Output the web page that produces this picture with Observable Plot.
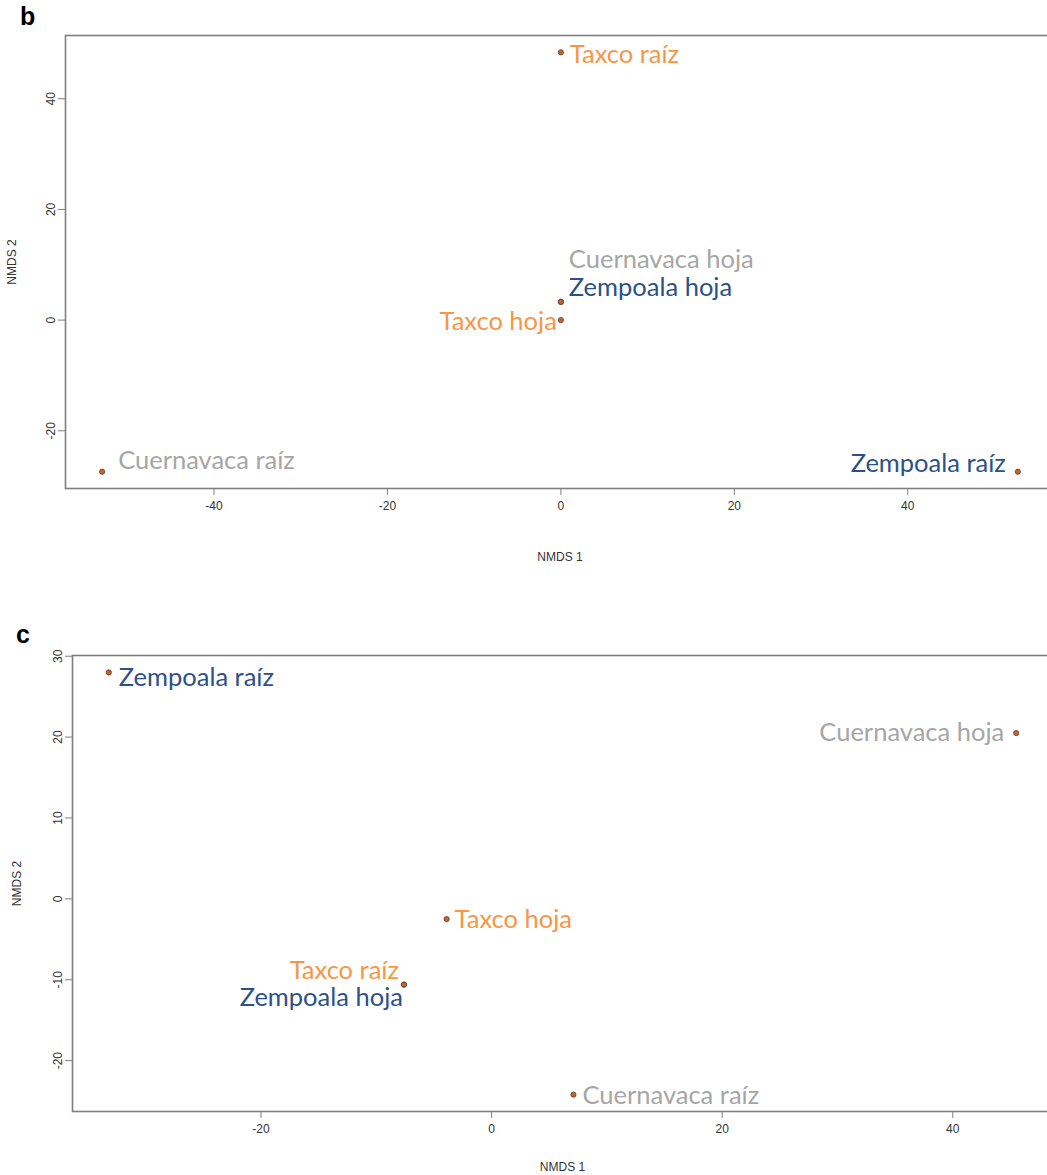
<!DOCTYPE html>
<html>
<head>
<meta charset="utf-8">
<script src="https://cdn.jsdelivr.net/npm/d3@7"></script>
<script src="https://cdn.jsdelivr.net/npm/@observablehq/plot@0.6"></script>
<style>
  html, body { margin: 0; padding: 0; background: #fff; }
  body { width: 1047px; height: 1175px; overflow: hidden; position: relative; font-family: "Liberation Sans", Arial, sans-serif; }
  .panel { position: absolute; left: 0; }
  .tag { position: absolute; font: bold 25px "Liberation Sans", Arial, sans-serif; color: #000; }
  svg { overflow: hidden; }
</style>
</head>
<body>
<div class="panel" id="pb" style="top:0"></div>
<div class="panel" id="pc" style="top:585px"></div>
<div class="tag" style="left:20px; top:2px">b</div>
<div class="tag" style="left:16px; top:620px">c</div>
<script>
// NMDS ordination scores per sample (site + tissue)
const samples = ["Taxco raíz", "Cuernavaca hoja", "Zempoala hoja", "Taxco hoja", "Cuernavaca raíz", "Zempoala raíz"];
const sites = ["Taxco", "Cuernavaca", "Zempoala", "Taxco", "Cuernavaca", "Zempoala"];

// panel b
const bNMDS1 = [0.0, 0.0, 0.0, 0.0, -52.9, 52.7];
const bNMDS2 = [48.4, 3.3, 3.3, 0.0, -27.4, -27.4];
const bTicksX = [-40, -20, 0, 20, 40];
const bTicksY = [-20, 0, 20, 40];

// panel c
const cSamples = ["Zempoala raíz", "Cuernavaca hoja", "Taxco hoja", "Taxco raíz", "Zempoala hoja", "Cuernavaca raíz"];
const cSites = ["Zempoala", "Cuernavaca", "Taxco", "Taxco", "Zempoala", "Cuernavaca"];
const cNMDS1 = [-33.2, 45.5, -3.9, -7.6, -7.6, 7.1];
const cNMDS2 = [28.0, 20.5, -2.5, -10.6, -10.6, -24.2];
const cTicksX = [-20, 0, 20, 40];
const cTicksY = [-20, -10, 0, 10, 20, 30];

// site colours
const siteColor = {Taxco: "#F79646", Cuernavaca: "#A6A6A6", Zempoala: "#2C5189"};

// label placement around each point: anchor side and pixel nudge
const placeB = {
  "Taxco raíz": ["start", 9, 3],
  "Cuernavaca hoja": ["start", 8, -42],
  "Zempoala hoja": ["start", 8, -14],
  "Taxco hoja": ["end", -4, 2],
  "Cuernavaca raíz": ["start", 16, -11],
  "Zempoala raíz": ["end", -12, -8]
};
const placeC = {
  "Zempoala raíz": ["start", 10, 5],
  "Cuernavaca hoja": ["end", -12, 0],
  "Taxco hoja": ["start", 8, 1],
  "Taxco raíz": ["end", -5, -14],
  "Zempoala hoja": ["end", -1, 13],
  "Cuernavaca raíz": ["start", 9, 1]
};

function rows(names, siteList, xs, ys) {
  return names.map((name, i) => ({name, site: siteList[i], x: xs[i], y: ys[i]}));
}

// R-style 4% padding of the data range
function padded(values) {
  const [lo, hi] = d3.extent(values);
  const p = (hi - lo) * 0.04;
  return [lo - p, hi + p];
}

const plain = d => String(d);

function panel({data, place, ticksX, ticksY, height, margins, labelOffsetX, labelOffsetY}) {
  const textMarks = ["start", "end"].flatMap(anchor =>
    data.filter(d => place[d.name][0] === anchor).map(d =>
      Plot.text([d], {
        x: "x", y: "y", text: "name",
        textAnchor: anchor,
        dx: place[d.name][1], dy: place[d.name][2],
        fill: siteColor[d.site],
        fontSize: 25.5,
        fontFamily: "Lato, 'Open Sans', sans-serif"
      })
    )
  );
  return Plot.plot({
    width: 1047,
    height,
    ...margins,
    style: {fontFamily: "'Liberation Sans', Arial, sans-serif", fontSize: "12px", color: "#333", background: "#fff"},
    x: {domain: padded(data.map(d => d.x))},
    y: {domain: padded(data.map(d => d.y))},
    marks: [
      Plot.frame({stroke: "#7f7f7f", strokeWidth: 1.6}),
      Plot.axisX({ticks: ticksX, tickFormat: plain, tickSize: 7, tickPadding: 6, stroke: "#7f7f7f", fill: "#333", fontSize: 12,
        label: "NMDS 1", labelAnchor: "center", labelArrow: "none", labelOffset: labelOffsetX}),
      Plot.axisY({ticks: ticksY, tickFormat: plain, tickSize: 7, tickPadding: 4, tickRotate: -90, stroke: "#7f7f7f", fill: "#333", fontSize: 12,
        label: "NMDS 2", labelAnchor: "center", labelArrow: "none", labelOffset: labelOffsetY}),
      ...textMarks,
      Plot.dot(data, {x: "x", y: "y", r: 2.6, fill: "#C8642E", stroke: "#5a3b2c", strokeWidth: 0.8})
    ]
  });
}

document.getElementById("pb").append(panel({
  data: rows(samples, sites, bNMDS1, bNMDS2),
  place: placeB, ticksX: bTicksX, ticksY: bTicksY,
  height: 585,
  margins: {marginTop: 35, marginLeft: 65, marginRight: -7, marginBottom: 97},
  labelOffsetX: 72, labelOffsetY: 58
}));

document.getElementById("pc").append(panel({
  data: rows(cSamples, cSites, cNMDS1, cNMDS2),
  place: placeC, ticksX: cTicksX, ticksY: cTicksY,
  height: 590,
  margins: {marginTop: 70, marginLeft: 72, marginRight: -5, marginBottom: 64},
  labelOffsetX: 59, labelOffsetY: 60
}));
</script>
</body>
</html>
